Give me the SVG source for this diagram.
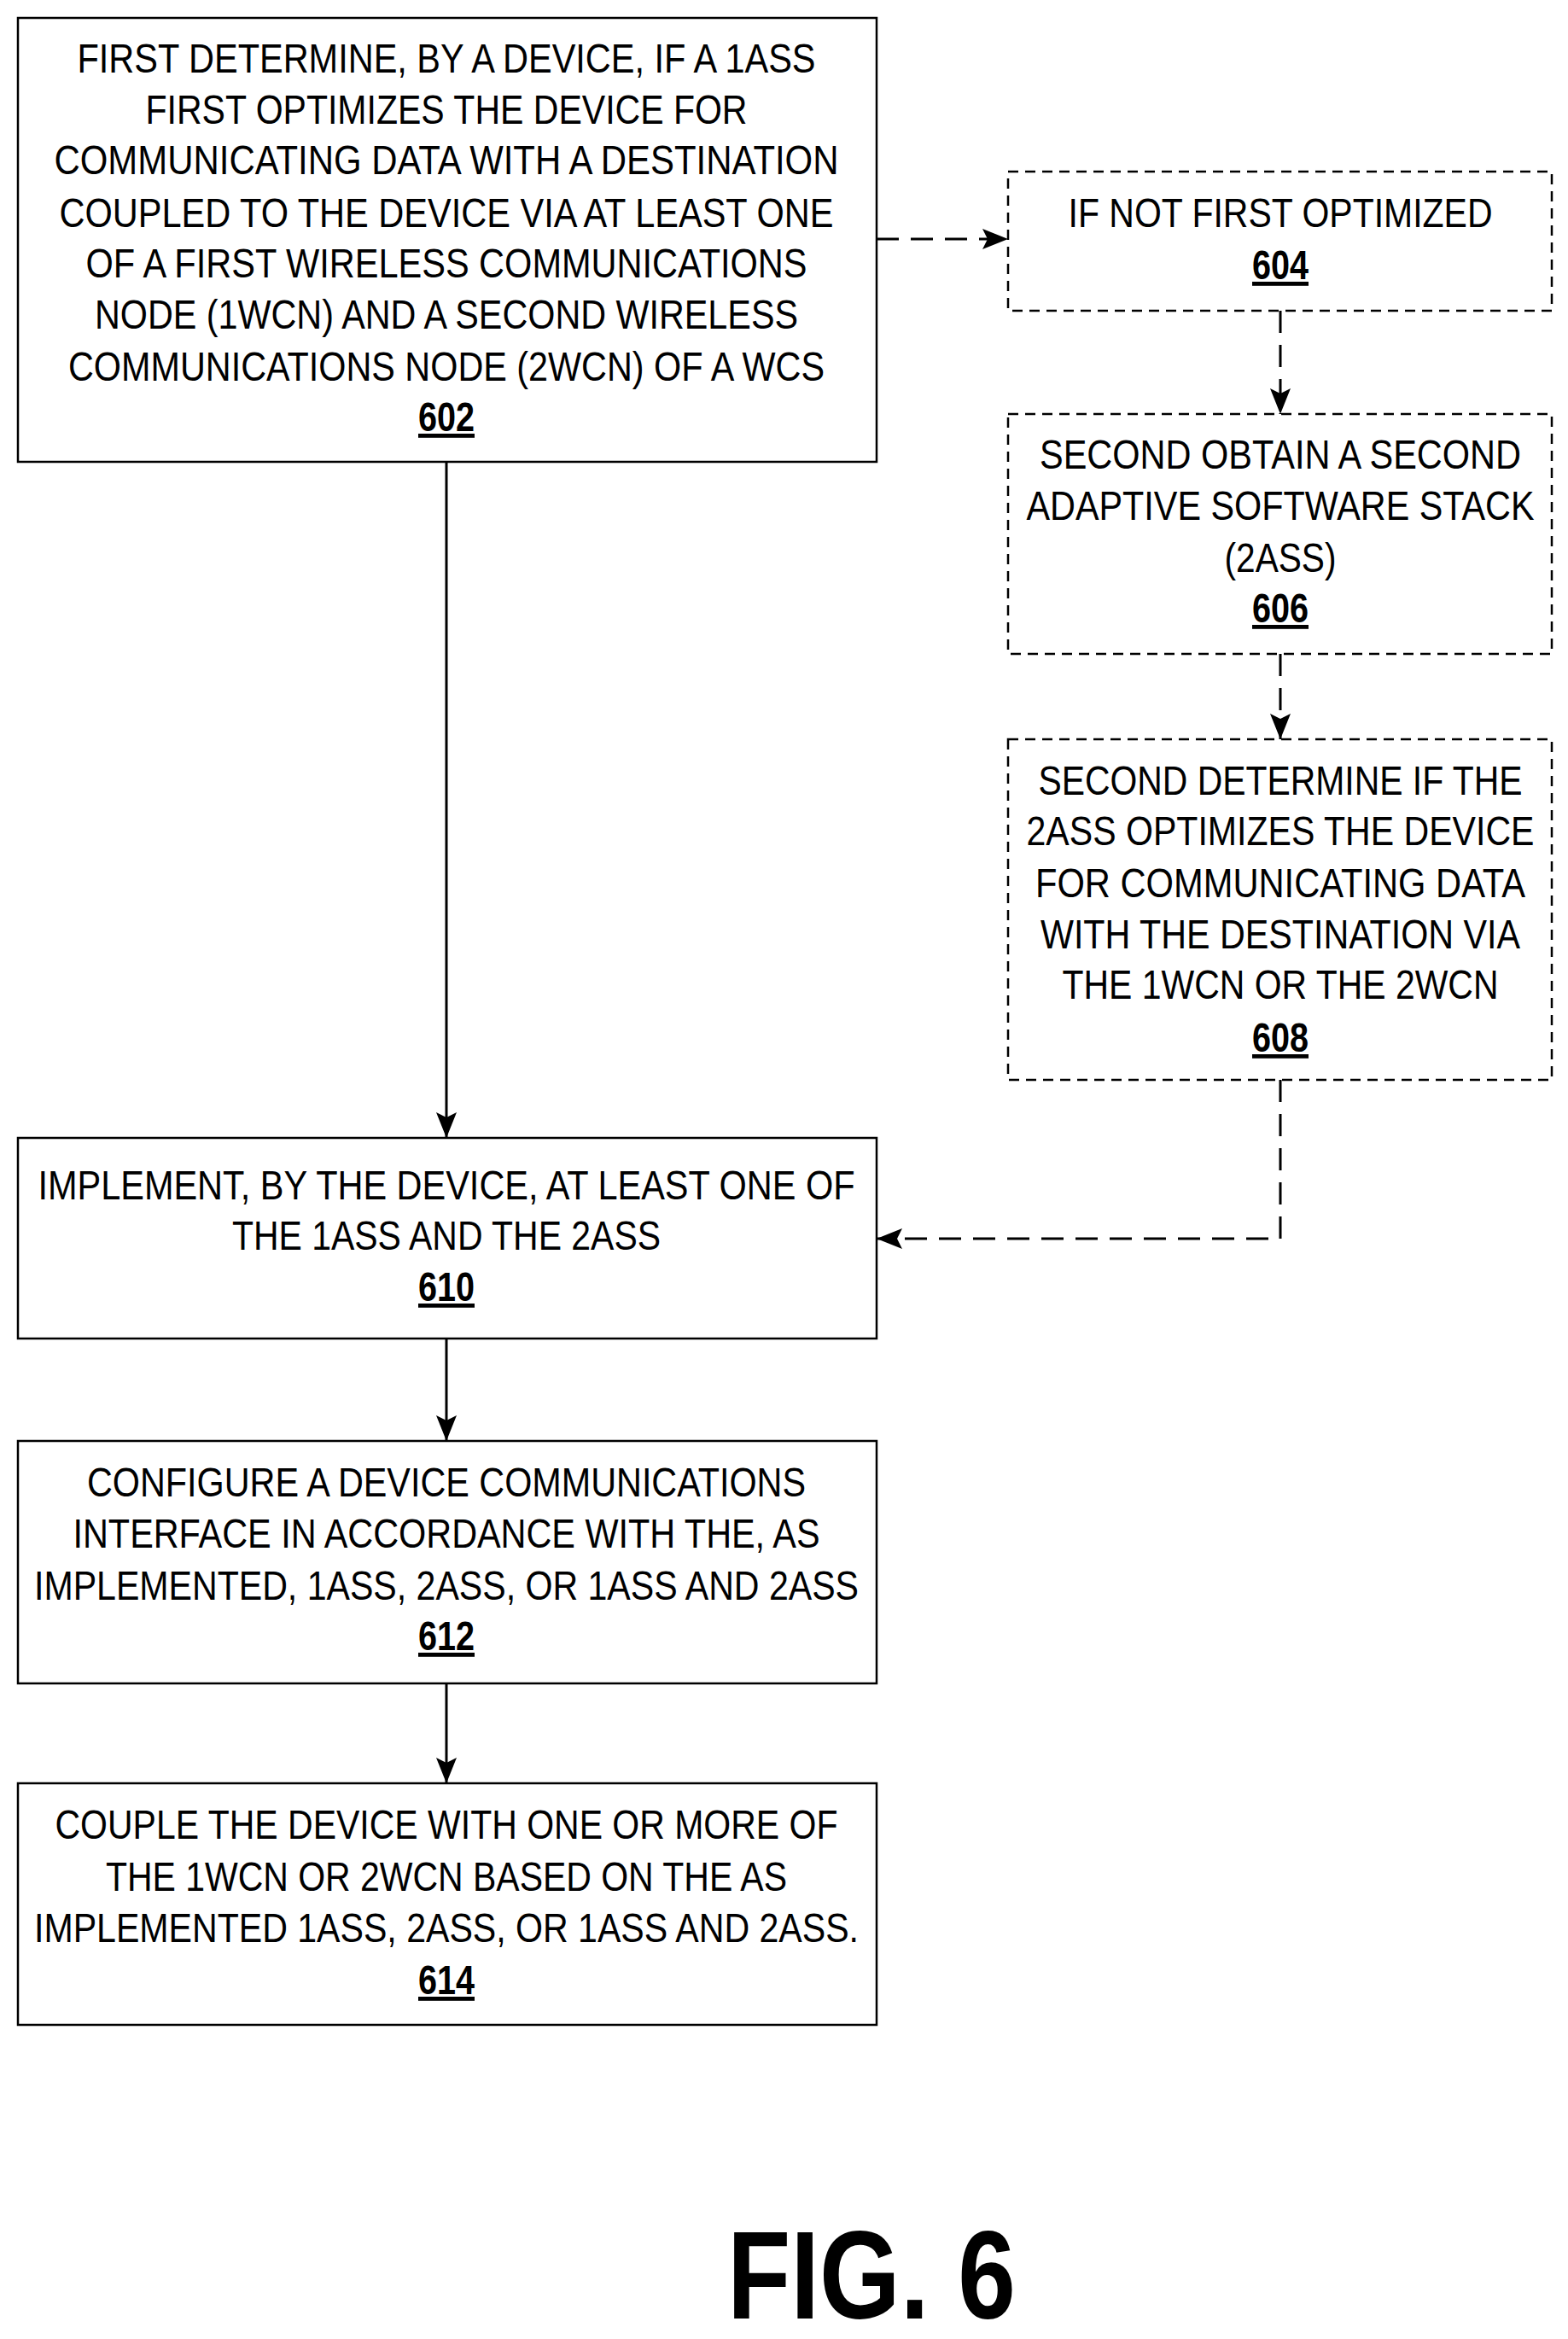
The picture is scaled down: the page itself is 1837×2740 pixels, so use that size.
<svg xmlns="http://www.w3.org/2000/svg" width="1837" height="2740" viewBox="0 0 1837 2740">
<style>
.b{fill:#fff;stroke:#000;stroke-width:2.5}
.d{stroke-dasharray:12,8}
text{font-family:"Liberation Sans",Arial,sans-serif;font-size:48px;text-anchor:middle;fill:#000}
.n{font-weight:bold;text-decoration:underline}
.c{fill:none;stroke:#000;stroke-width:3}
.cd{stroke-dasharray:26,14}
</style>
<defs>
<marker id="ab" markerWidth="30" markerHeight="24" refX="30" refY="12" orient="auto" markerUnits="userSpaceOnUse"><path d="M0,0 L30,12 L0,24 L6,12 Z" fill="#000"/></marker></defs>
<g id="connectors">
<path class="c" d="M523,541 V1333" marker-end="url(#ab)"/>
<path class="c cd" d="M1027,280 H1181" marker-end="url(#ab)"/>
<path class="c cd" d="M1500,364 V485" marker-end="url(#ab)"/>
<path class="c cd" d="M1500,766 V866" marker-end="url(#ab)"/>
<path class="c cd" d="M1500,1265 V1451 H1027" marker-end="url(#ab)"/>
<path class="c" d="M523,1568 V1688" marker-end="url(#ab)"/>
<path class="c" d="M523,1972 V2089" marker-end="url(#ab)"/>
</g>
<g transform="translate(0,-4)">
<g id="n602"><rect class="b" x="21" y="25" width="1006" height="520"/>
<text x="523" y="89" textLength="865" lengthAdjust="spacingAndGlyphs">FIRST DETERMINE, BY A DEVICE, IF A 1ASS</text>
<text x="523" y="149" textLength="705" lengthAdjust="spacingAndGlyphs">FIRST OPTIMIZES THE DEVICE FOR</text>
<text x="523" y="208" textLength="919" lengthAdjust="spacingAndGlyphs">COMMUNICATING DATA WITH A DESTINATION</text>
<text x="523" y="270" textLength="907" lengthAdjust="spacingAndGlyphs">COUPLED TO THE DEVICE VIA AT LEAST ONE</text>
<text x="523" y="329" textLength="845" lengthAdjust="spacingAndGlyphs">OF A FIRST WIRELESS COMMUNICATIONS</text>
<text x="523" y="389" textLength="824" lengthAdjust="spacingAndGlyphs">NODE (1WCN) AND A SECOND WIRELESS</text>
<text x="523" y="450" textLength="886" lengthAdjust="spacingAndGlyphs">COMMUNICATIONS NODE (2WCN) OF A WCS</text>
<text class="n" x="523" y="509" textLength="66" lengthAdjust="spacingAndGlyphs">602</text></g>
<g id="n604"><rect class="b d" x="1181" y="205" width="637" height="163"/>
<text x="1500" y="270" textLength="497" lengthAdjust="spacingAndGlyphs">IF NOT FIRST OPTIMIZED</text>
<text class="n" x="1500" y="331" textLength="66" lengthAdjust="spacingAndGlyphs">604</text></g>
<g id="n606"><rect class="b d" x="1181" y="489" width="637" height="281"/>
<text x="1500" y="553" textLength="564" lengthAdjust="spacingAndGlyphs">SECOND OBTAIN A SECOND</text>
<text x="1500" y="613" textLength="595" lengthAdjust="spacingAndGlyphs">ADAPTIVE SOFTWARE STACK</text>
<text x="1500" y="674" textLength="131" lengthAdjust="spacingAndGlyphs">(2ASS)</text>
<text class="n" x="1500" y="733" textLength="66" lengthAdjust="spacingAndGlyphs">606</text></g>
<g id="n608"><rect class="b d" x="1181" y="870" width="637" height="399"/>
<text x="1500" y="935" textLength="567" lengthAdjust="spacingAndGlyphs">SECOND DETERMINE IF THE</text>
<text x="1500" y="994" textLength="595" lengthAdjust="spacingAndGlyphs">2ASS OPTIMIZES THE DEVICE</text>
<text x="1500" y="1055" textLength="574" lengthAdjust="spacingAndGlyphs">FOR COMMUNICATING DATA</text>
<text x="1500" y="1115" textLength="562" lengthAdjust="spacingAndGlyphs">WITH THE DESTINATION VIA</text>
<text x="1500" y="1174" textLength="511" lengthAdjust="spacingAndGlyphs">THE 1WCN OR THE 2WCN</text>
<text class="n" x="1500" y="1236" textLength="66" lengthAdjust="spacingAndGlyphs">608</text></g>
<g id="n610"><rect class="b" x="21" y="1337" width="1006" height="235"/>
<text x="523" y="1409" textLength="957" lengthAdjust="spacingAndGlyphs">IMPLEMENT, BY THE DEVICE, AT LEAST ONE OF</text>
<text x="523" y="1468" textLength="502" lengthAdjust="spacingAndGlyphs">THE 1ASS AND THE 2ASS</text>
<text class="n" x="523" y="1528" textLength="66" lengthAdjust="spacingAndGlyphs">610</text></g>
<g id="n612"><rect class="b" x="21" y="1692" width="1006" height="284"/>
<text x="523" y="1757" textLength="842" lengthAdjust="spacingAndGlyphs">CONFIGURE A DEVICE COMMUNICATIONS</text>
<text x="523" y="1817" textLength="875" lengthAdjust="spacingAndGlyphs">INTERFACE IN ACCORDANCE WITH THE, AS</text>
<text x="523" y="1878" textLength="966" lengthAdjust="spacingAndGlyphs">IMPLEMENTED, 1ASS, 2ASS, OR 1ASS AND 2ASS</text>
<text class="n" x="523" y="1937" textLength="66" lengthAdjust="spacingAndGlyphs">612</text></g>
<g id="n614"><rect class="b" x="21" y="2093" width="1006" height="283"/>
<text x="523" y="2158" textLength="917" lengthAdjust="spacingAndGlyphs">COUPLE THE DEVICE WITH ONE OR MORE OF</text>
<text x="523" y="2219" textLength="798" lengthAdjust="spacingAndGlyphs">THE 1WCN OR 2WCN BASED ON THE AS</text>
<text x="523" y="2279" textLength="966" lengthAdjust="spacingAndGlyphs">IMPLEMENTED 1ASS, 2ASS, OR 1ASS AND 2ASS.</text>
<text class="n" x="523" y="2340" textLength="66" lengthAdjust="spacingAndGlyphs">614</text></g>
</g>
<text x="1021" y="2716" style="font-size:146px;font-weight:bold" textLength="338" lengthAdjust="spacingAndGlyphs">FIG. 6</text>
</svg>
